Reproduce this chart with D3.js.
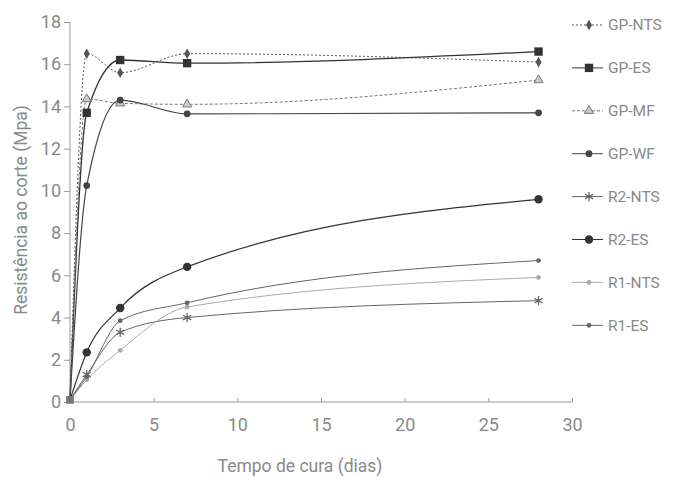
<!DOCTYPE html>
<html><head><meta charset="utf-8">
<script src="https://cdn.jsdelivr.net/npm/d3@7"></script>
<style>
body{margin:0;background:#fff;}
text{font-family:Roboto,"Liberation Sans",sans-serif;fill:#8a8a8a;}
</style></head>
<body><svg id="c" width="678" height="477"></svg>
<script>
const days = [0, 1, 3, 7, 28];
const seriesNames = ["GP-NTS","GP-ES","GP-MF","GP-WF","R2-NTS","R2-ES","R1-NTS","R1-ES"];
const gpNts = [0.1, 16.5, 15.6, 16.5, 16.1];
const gpEs  = [0.1, 13.7, 16.2, 16.05, 16.6];
const gpMf  = [0.1, 14.35, 14.15, 14.1, 15.25];
const gpWf  = [0.1, 10.25, 14.3, 13.65, 13.7];
const r2Nts = [0.1, 1.3, 3.3, 4.0, 4.8];
const r2Es  = [0.1, 2.35, 4.45, 6.4, 9.6];
const r1Nts = [0.1, 1.05, 2.45, 4.5, 5.9];
const r1Es  = [0.1, 1.2, 3.85, 4.7, 6.7];
const xTicks = [0,5,10,15,20,25,30];
const yTicks = [0,2,4,6,8,10,12,14,16,18];

const values = [gpNts,gpEs,gpMf,gpWf,r2Nts,r2Es,r1Nts,r1Es];
const styles = [
  {marker:"diamond", size:32, color:"#555", dash:"2,2", w:1},
  {marker:"square", size:70, color:"#333", dash:null, w:1.3},
  {marker:"triangle", size:36, color:"#777", dash:"3,2", w:1},
  {marker:"circle", size:36, color:"#444", dash:null, w:1.2},
  {marker:"asterisk", size:60, color:"#666", dash:null, w:1},
  {marker:"circle", size:56, color:"#333", dash:null, w:1.2},
  {marker:"circle", size:18, color:"#aaa", dash:null, w:1},
  {marker:"circle", size:18, color:"#666", dash:null, w:1}
];

const svg = d3.select("#c");
const x = d3.scaleLinear().domain([0,30]).range([70,572]);
const y = d3.scaleLinear().domain([0,18]).range([402,22]);

const gx = svg.append("g").attr("transform","translate(0,402)")
  .call(d3.axisBottom(x).tickValues(xTicks).tickSize(-4).tickPadding(16));
const gy = svg.append("g").attr("transform","translate(70,0)")
  .call(d3.axisLeft(y).tickValues(yTicks).tickSize(6).tickPadding(3));
[gx,gy].forEach(g=>{
  g.selectAll("path").attr("stroke","#999");
  g.selectAll("line").attr("stroke","#999");
  g.selectAll("text").style("font-size","18px").attr("fill","#8a8a8a");
});
gx.select(".domain").attr("d","M70,0H572");
gy.select(".domain").attr("d","M0,402V22");

svg.append("text").attr("x",300).attr("y",472).attr("text-anchor","middle")
  .style("font-size","17.5px").text("Tempo de cura (dias)");
svg.append("text").attr("transform","translate(27,210) rotate(-90)").attr("text-anchor","middle")
  .style("font-size","17.5px").text("Resistência ao corte (Mpa)");

const symMap = {diamond:d3.symbolDiamond, square:d3.symbolSquare, triangle:d3.symbolTriangle, circle:d3.symbolCircle, asterisk:d3.symbolAsterisk};
function drawMarker(g, st, cx, cy){
  const p = g.append("path").attr("transform",`translate(${cx},${cy})`)
    .attr("d", d3.symbol().type(symMap[st.marker]).size(st.size)());
  if(st.marker==="asterisk"){
    p.attr("fill","none").attr("stroke",st.color).attr("stroke-width",1.3);
  } else if(st.marker==="triangle"){
    p.attr("fill","#ccc").attr("stroke",st.color).attr("stroke-width",1);
  } else {
    p.attr("fill",st.color);
  }
}

const line = d3.line().x((d,i)=>x(days[i])).y(d=>y(d)).curve(d3.curveMonotoneX);
values.forEach((vals,si)=>{
  const st = styles[si];
  svg.append("path").attr("d",line(vals)).attr("fill","none")
    .attr("stroke",st.color).attr("stroke-width",st.w)
    .attr("stroke-dasharray",st.dash);
});
values.forEach((vals,si)=>{
  const st = styles[si];
  const g = svg.append("g");
  vals.forEach((v,i)=>{
    if(i===0) return;
    drawMarker(g, st, x(days[i]), y(v));
  });
});
drawMarker(svg.append("g"), {marker:"square",size:60,color:"#777"}, x(0), y(0.1));

const leg = svg.append("g");
seriesNames.forEach((n,i)=>{
  const st = styles[i];
  const ly = 25 + i*42.9;
  leg.append("line").attr("x1",572).attr("x2",603).attr("y1",ly).attr("y2",ly)
    .attr("stroke",st.color).attr("stroke-width",1).attr("stroke-dasharray",st.dash);
  drawMarker(leg, st, 589, ly);
  leg.append("text").attr("x",608).attr("y",ly).attr("dy","0.35em")
    .style("font-size","15.5px").text(n);
});
</script></body></html>
